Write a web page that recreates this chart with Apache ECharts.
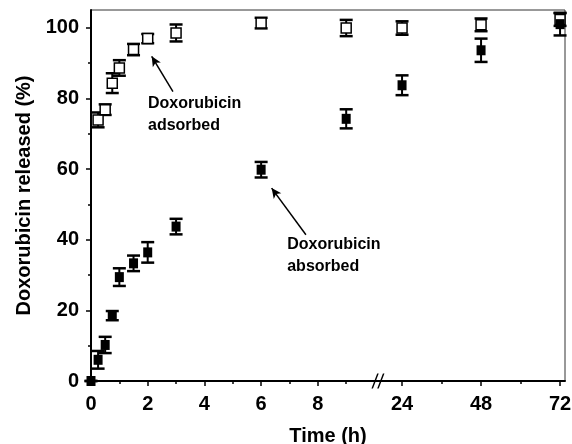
<!DOCTYPE html>
<html>
<head>
<meta charset="utf-8">
<script src="https://cdn.jsdelivr.net/npm/echarts@6/dist/echarts.min.js"></script>
<style>
    html, body { margin: 0; padding: 0; background: #fff; }
    #main { width: 572px; height: 444px; }
</style>
</head>
<body>
<div id="main"></div>
<script>
// release data (time in h, % released, +/- error)
const timeAdsorbed = [0.25, 0.5, 0.75, 1, 1.5, 2, 3, 6, 9, 24, 48, 72]
const releasedAdsorbed = [73.9, 76.8, 84.3, 88.6, 93.8, 96.9, 98.5, 101.3, 99.9, 99.9, 100.8, 102.3]
const errAdsorbed = [2.1, 1.5, 2.8, 2.2, 1.6, 1.3, 2.4, 1.5, 2.3, 1.9, 1.8, 1.8]

const timeAbsorbed = [0, 0.25, 0.5, 0.75, 1, 1.5, 2, 3, 6, 9, 24, 48, 72]
const releasedAbsorbed = [0, 6, 10.2, 18.5, 29.4, 33.3, 36.4, 43.7, 59.8, 74.2, 83.7, 93.6, 101]
const errAbsorbed = [0, 2.5, 2.3, 1.3, 2.5, 2.2, 2.9, 2.2, 2.2, 2.7, 2.8, 3.3, 3.2]

const xTickLabels = [0, 2, 4, 6, 8, 24, 48, 72]
const xMinorTicks = [1, 3, 5, 7, 9, 36, 60]
const yTickLabels = [0, 20, 40, 60, 80, 100]
const yMinorTicks = [10, 30, 50, 70, 90]

// broken time axis: 0-10 h linear, then a compressed 24-72 h segment
const SEG1_END = 10
const SEG2_ORIGIN = 10.97
const SEG2_SCALE = 0.1161
const BREAK_X = 10.12
const tx = (t) => t <= SEG1_END ? t : SEG2_ORIGIN + (t - 24) * SEG2_SCALE

const FONT = '"Liberation Sans", Arial, Helvetica, sans-serif'
const X_MAX = tx(73.5)

const pts = (ts, ys) => ts.map((t, i) => [tx(t), ys[i]])
const bars = (ts, ys, es) => ts.map((t, i) => [tx(t), ys[i] - es[i], ys[i] + es[i]])

const renderErrorBar = (params, api) => {
    const x = api.value(0)
    const top = api.coord([x, api.value(2)])
    const bot = api.coord([x, api.value(1)])
    const half = 6.5
    const style = { stroke: '#000', lineWidth: 2.5 }
    return {
        type: 'group',
        children: [
            { type: 'line', shape: { x1: top[0], y1: top[1], x2: bot[0], y2: bot[1] }, style: { stroke: '#000', lineWidth: 2 } },
            { type: 'line', shape: { x1: top[0] - half, y1: top[1], x2: top[0] + half, y2: top[1] }, style },
            { type: 'line', shape: { x1: bot[0] - half, y1: bot[1], x2: bot[0] + half, y2: bot[1] }, style }
        ]
    }
}

const chart = echarts.init(document.getElementById('main'))
const axisText = { color: '#000', fontFamily: FONT, fontWeight: 'bold', fontSize: 20 }
const titleText = { color: '#000', fontFamily: FONT, fontWeight: 'bold', fontSize: 20 }

const option = {
    backgroundColor: '#fff',
    animation: false,
    grid: {
        left: 91, right: 7, top: 10, bottom: 63,
        outerBoundsMode: 'none', containLabel: false,
        show: true, borderColor: '#333', borderWidth: 1
    },
    xAxis: [
        {
            type: 'value', min: 0, max: X_MAX,
            name: 'Time (h)', nameLocation: 'middle', nameGap: 45,
            nameTextStyle: titleText,
            axisLine: { show: true, lineStyle: { color: '#000', width: 2 } },
            axisTick: { show: true, customValues: xTickLabels.map(tx), length: 5, lineStyle: { color: '#000', width: 1.5 } },
            axisLabel: {
                ...axisText, margin: 13,
                customValues: xTickLabels.map(tx),
                formatter: (v) => {
                    const i = xTickLabels.findIndex((t) => Math.abs(tx(t) - v) < 1e-6)
                    return i < 0 ? '' : String(xTickLabels[i])
                }
            },
            splitLine: { show: false }
        },
        {
            type: 'value', min: 0, max: X_MAX, position: 'bottom',
            axisLine: { show: false },
            axisTick: { show: true, customValues: xMinorTicks.map(tx), length: 3, lineStyle: { color: '#000', width: 1.5 } },
            axisLabel: { show: false },
            splitLine: { show: false }
        }
    ],
    yAxis: [
        {
            type: 'value', min: 0, max: 105, position: 'left',
            name: 'Doxorubicin released (%)', nameLocation: 'middle', nameGap: 50,
            nameTextStyle: titleText,
            axisLine: { show: true, lineStyle: { color: '#000', width: 2 } },
            axisTick: { show: true, customValues: yTickLabels, length: 5, lineStyle: { color: '#000', width: 1.5 } },
            axisLabel: { ...axisText, margin: 12, customValues: yTickLabels },
            splitLine: { show: false }
        },
        {
            type: 'value', min: 0, max: 105, position: 'left',
            axisLine: { show: false },
            axisTick: { show: true, customValues: yMinorTicks, length: 3, lineStyle: { color: '#000', width: 1.5 } },
            axisLabel: { show: false },
            splitLine: { show: false }
        }
    ],
    series: [
        {
            type: 'custom', name: 'absorbed err',
            renderItem: renderErrorBar,
            encode: { x: 0, y: [1, 2] },
            data: bars(timeAbsorbed, releasedAbsorbed, errAbsorbed),
            clip: false, silent: true, z: 2
        },
        {
            type: 'custom', name: 'adsorbed err',
            renderItem: renderErrorBar,
            encode: { x: 0, y: [1, 2] },
            data: bars(timeAdsorbed, releasedAdsorbed, errAdsorbed),
            clip: false, silent: true, z: 2
        },
        {
            type: 'scatter', name: 'Doxorubicin adsorbed',
            symbol: 'rect', symbolSize: 10,
            itemStyle: { color: '#fff', borderColor: '#000', borderWidth: 1.5, opacity: 1 },
            data: pts(timeAdsorbed, releasedAdsorbed),
            clip: false, silent: true, z: 3
        },
        {
            type: 'scatter', name: 'Doxorubicin absorbed',
            symbol: 'rect', symbolSize: [9, 10],
            itemStyle: { color: '#000', opacity: 1 },
            data: pts(timeAbsorbed, releasedAbsorbed),
            clip: false, silent: true, z: 4
        },
        {
            // axis break mark
            type: 'scatter', name: 'break',
            symbol: 'path://M0,14 L6,0 L7.6,0 L1.6,14 Z M6,14 L12,0 L13.6,0 L7.6,14 Z',
            symbolSize: [13, 15],
            itemStyle: { color: '#000', opacity: 1 },
            data: [[BREAK_X, 0]],
            clip: false, silent: true, z: 5
        },
        {
            // annotations with arrows
            type: 'scatter', name: 'notes',
            symbolSize: 0,
            itemStyle: { opacity: 1 },
            data: [
                [2.01, 81.6, 'Doxorubicin\nadsorbed'],
                [6.92, 41.6, 'Doxorubicin\nabsorbed']
            ],
            label: {
                show: true, position: [0, 0], align: 'left', verticalAlign: 'top',
                formatter: (p) => p.data[2],
                color: '#000', fontFamily: FONT, fontWeight: 'bold', fontSize: 16, lineHeight: 22
            },
            markLine: {
                silent: true, animation: false,
                symbol: ['none', 'arrow'], symbolSize: [7, 10],
                label: { show: false },
                lineStyle: { color: '#000', width: 1.5, type: 'solid' },
                data: [
                    [{ coord: [2.89, 81.9] }, { coord: [2.14, 91.9] }],
                    [{ coord: [7.58, 41.4] }, { coord: [6.37, 54.6] }]
                ]
            },
            clip: false, silent: true, z: 5
        }
    ]
}
chart.setOption(option)
</script>
</body>
</html>
